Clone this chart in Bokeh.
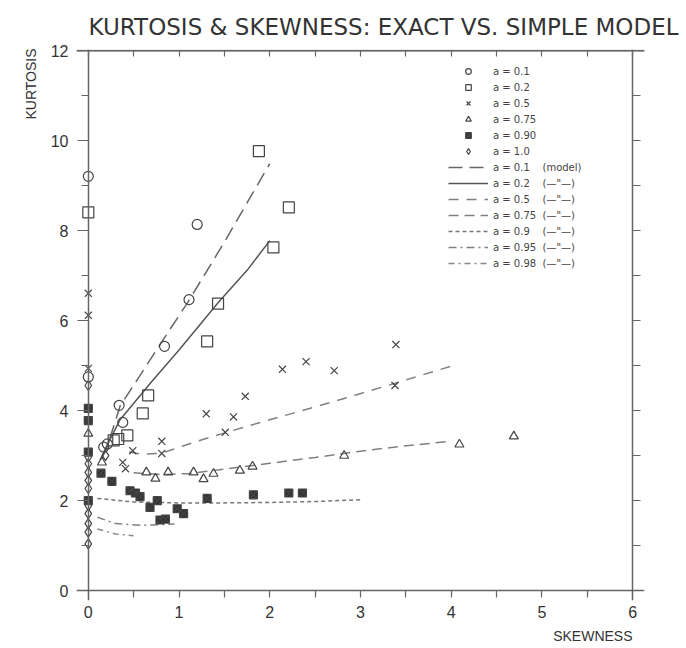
from bokeh.plotting import figure
from bokeh.models import (Range1d, LinearAxis, SingleIntervalTicker, FixedTicker,
                          Title, Legend, LegendItem, Span)
from bokeh.embed import file_html
from bokeh.resources import INLINE

# ---- exact results (skewness, kurtosis) for each value of a ----
a01_skew = [0.0, 0.0, 0.17, 0.21, 0.34, 0.38, 0.84, 1.11, 1.20]
a01_kurt = [9.21, 4.75, 3.19, 3.26, 4.12, 3.74, 5.43, 6.47, 8.14]

a02_skew = [0.0, 0.28, 0.33, 0.43, 0.60, 0.66, 1.31, 1.43, 1.88, 2.04, 2.21]
a02_kurt = [8.41, 3.34, 3.37, 3.45, 3.94, 4.34, 5.54, 6.38, 9.77, 7.63, 8.52]

a05_skew = [0.0, 0.0, 0.0, 0.38, 0.41, 0.49, 0.81, 0.81, 1.30, 1.51, 1.60,
            1.73, 2.14, 2.40, 2.71, 3.38, 3.39]
a05_kurt = [6.61, 6.12, 4.94, 2.85, 2.71, 3.11, 3.32, 3.05, 3.93, 3.52, 3.86,
            4.32, 4.92, 5.09, 4.89, 4.56, 5.47]

a075_skew = [0.0, 0.15, 0.64, 0.74, 0.88, 1.16, 1.27, 1.38, 1.67, 1.81, 2.82,
             4.09, 4.69]
a075_kurt = [3.49, 2.85, 2.63, 2.49, 2.63, 2.63, 2.48, 2.60, 2.67, 2.76, 3.00,
             3.25, 3.43]

a090_skew = [0.0, 0.0, 0.0, 0.0, 0.14, 0.26, 0.46, 0.52, 0.57, 0.68, 0.76, 0.79,
             0.85, 0.98, 1.05, 1.31, 1.82, 2.21, 2.36]
a090_kurt = [4.05, 3.78, 3.08, 2.00, 2.61, 2.43, 2.22, 2.17, 2.09, 1.85, 2.00,
             1.57, 1.59, 1.82, 1.71, 2.05, 2.13, 2.17, 2.17]

a100_skew = [0.0, 0.0, 0.0, 0.0, 0.0, 0.0, 0.0, 0.0, 0.0, 0.0, 0.0, 0.19]
a100_kurt = [4.56, 2.97, 2.82, 2.63, 2.45, 2.27, 1.89, 1.71, 1.49, 1.30, 1.04,
             3.00]

# ---- simple model curves ----
m01_skew = [0.15, 0.20, 0.35, 0.80, 1.10, 1.50, 2.00]
m01_kurt = [2.95, 3.15, 4.10, 5.50, 6.42, 7.75, 9.49]

m02_skew = [0.13, 0.20, 0.35, 0.70, 1.00, 1.43, 1.75, 2.00]
m02_kurt = [2.90, 3.20, 3.80, 4.65, 5.35, 6.40, 7.12, 7.78]

m05_skew = [0.45, 0.60, 0.80, 1.05, 1.34, 1.90, 2.30, 2.90, 3.33, 4.00]
m05_kurt = [3.08, 3.03, 3.05, 3.22, 3.41, 3.74, 3.97, 4.32, 4.58, 4.99]

m075_skew = [0.50, 0.80, 1.10, 1.50, 2.00, 2.50, 3.00, 3.50, 4.00]
m075_kurt = [2.62, 2.58, 2.60, 2.70, 2.83, 2.96, 3.10, 3.22, 3.32]

m09_skew = [0.10, 0.50, 1.00, 1.50, 2.00, 2.50, 3.00]
m09_kurt = [2.05, 1.97, 1.95, 1.95, 1.96, 1.98, 2.02]

m095_skew = [0.10, 0.30, 0.60, 0.95]
m095_kurt = [1.63, 1.49, 1.45, 1.48]

m098_skew = [0.10, 0.30, 0.50]
m098_kurt = [1.37, 1.26, 1.22]

# tick positions of the crossing axes and the frame edges
x_half_ticks = [0, 0.5, 1, 1.5, 2, 2.5, 3, 3.5, 4, 4.5, 5, 5.5, 6]
y_even_ticks = [0, 2, 4, 6, 8, 10, 12]
y_odd_ticks = [1, 3, 5, 7, 9, 11]
right_ticks = [1, 2, 3, 4, 5, 6, 7, 8, 9, 10, 11]
KURT_TOP = 12

FONT = "DejaVu Sans"
LABEL_FONT = "Liberation Sans"
INK = "#333333"
AXIS = "#666666"

p = figure(frame_width=568, frame_height=551, output_backend="svg",
           toolbar_location=None,
           x_range=Range1d(-0.13, 6.13), y_range=Range1d(-0.22, 12.03),
           min_border_left=76, min_border_right=41, min_border_top=49,
           min_border_bottom=40, background_fill_color="white",
           border_fill_color="white", outline_line_color=None,
           x_axis_location=None, y_axis_location=None)
p.grid.visible = False

p.title.text = "KURTOSIS & SKEWNESS: EXACT VS. SIMPLE MODEL"
p.title.align = "left"
p.title.offset = 12
p.title.text_font = FONT
p.title.text_font_style = "normal"
p.title.text_font_size = "23px"
p.title.text_color = INK
p.title.standoff = 20


def tick_axis(ticks, loc, tick_in=0, tick_out=0, line=True):
    """Axis line and unlabelled tick marks crossing the frame at a data value."""
    return LinearAxis(ticker=FixedTicker(ticks=[], minor_ticks=ticks),
                      fixed_location=loc,
                      major_tick_in=0, major_tick_out=0,
                      minor_tick_in=tick_in, minor_tick_out=tick_out,
                      axis_line_color=AXIS if line else None,
                      axis_line_width=1.5,
                      minor_tick_line_color=AXIS, minor_tick_line_width=1.2)


# axes crossing at the origin, plus the top and right edges of the box
p.add_layout(tick_axis(x_half_ticks, 0, tick_out=7), "below")
p.add_layout(tick_axis(x_half_ticks, KURT_TOP, tick_out=6), "below")
p.add_layout(tick_axis(y_even_ticks, 0, tick_out=11), "left")
p.add_layout(tick_axis(y_odd_ticks, 0, tick_out=7, line=False), "left")
p.add_layout(tick_axis(right_ticks, 6, tick_out=8), "right")
# top rule of the box across the whole frame
p.add_layout(Span(location=KURT_TOP, dimension="width", line_color=AXIS,
                  line_width=1.5))

# tick labels
xlab = LinearAxis(ticker=SingleIntervalTicker(interval=1, num_minor_ticks=0),
                  axis_line_color=None, major_tick_line_color=None,
                  major_tick_in=0, major_tick_out=0,
                  major_label_text_font=LABEL_FONT,
                  major_label_text_font_size="16px",
                  major_label_text_color=INK, major_label_standoff=5)
p.add_layout(xlab, "below")
ylab = LinearAxis(ticker=SingleIntervalTicker(interval=2, num_minor_ticks=0),
                  axis_line_color=None, major_tick_line_color=None,
                  major_tick_in=0, major_tick_out=0,
                  major_label_text_font=LABEL_FONT,
                  major_label_text_font_size="16px",
                  major_label_text_color=INK, major_label_standoff=8)
p.add_layout(ylab, "left")

p.add_layout(Title(text="KURTOSIS", align="right", text_font=LABEL_FONT,
                   text_font_size="14px", text_font_style="normal",
                   text_color=INK, standoff=18, offset=-1), "left")
p.add_layout(Title(text="SKEWNESS", align="right", text_font=LABEL_FONT,
                   text_font_size="14px", text_font_style="normal",
                   text_color=INK, standoff=11, offset=12), "below")

# model curves
line_specs = [
    (m01_skew, m01_kurt, "14 7", "#666666", "a = 0.1    (model)"),
    (m02_skew, m02_kurt, "solid", "#555555", "a = 0.2    (\u2014\"\u2014)"),
    (m05_skew, m05_kurt, "10 8", "#808080", "a = 0.5    (\u2014\"\u2014)"),
    (m075_skew, m075_kurt, "10 6", "#808080", "a = 0.75  (\u2014\"\u2014)"),
    (m09_skew, m09_kurt, "4 3", "#777777", "a = 0.9    (\u2014\"\u2014)"),
    (m095_skew, m095_kurt, "8 4 2 4", "#808080", "a = 0.95  (\u2014\"\u2014)"),
    (m098_skew, m098_kurt, "6 4 2 4", "#8a8a8a", "a = 0.98  (\u2014\"\u2014)"),
]
line_items = []
for xs, ys, dash, col, lab in line_specs:
    r = p.line(xs, ys, line_color=col, line_width=1.5, line_dash=dash)
    line_items.append(LegendItem(label=lab, renderers=[r]))

# exact points
marker_specs = [
    (a01_skew, a01_kurt, "circle", None, 10, "a = 0.1"),
    (a02_skew, a02_kurt, "square", None, 11, "a = 0.2"),
    (a05_skew, a05_kurt, "x", None, 10, "a = 0.5"),
    (a075_skew, a075_kurt, "triangle", None, 9, "a = 0.75"),
    (a090_skew, a090_kurt, "square_x", "#333333", 8, "a = 0.90"),
    (a100_skew, a100_kurt, "diamond", None, 10, "a = 1.0"),
]
marker_items = []
for xs, ys, mk, fill, size, lab in marker_specs:
    r = p.scatter(xs, ys, marker=mk, size=size, line_color="#444444",
                  line_width=1.2, fill_color=fill)
    marker_items.append(LegendItem(label=lab, renderers=[r]))

legend = Legend(items=marker_items + line_items, location=(372, 330),
                border_line_color=None, background_fill_alpha=0,
                label_text_font=FONT, label_text_font_size="10px",
                label_text_color="#444444", glyph_width=40, glyph_height=14,
                label_height=14, spacing=2, padding=0, margin=0,
                label_standoff=5)
p.add_layout(legend)

open("out.html", "w").write(file_html(p, INLINE))
